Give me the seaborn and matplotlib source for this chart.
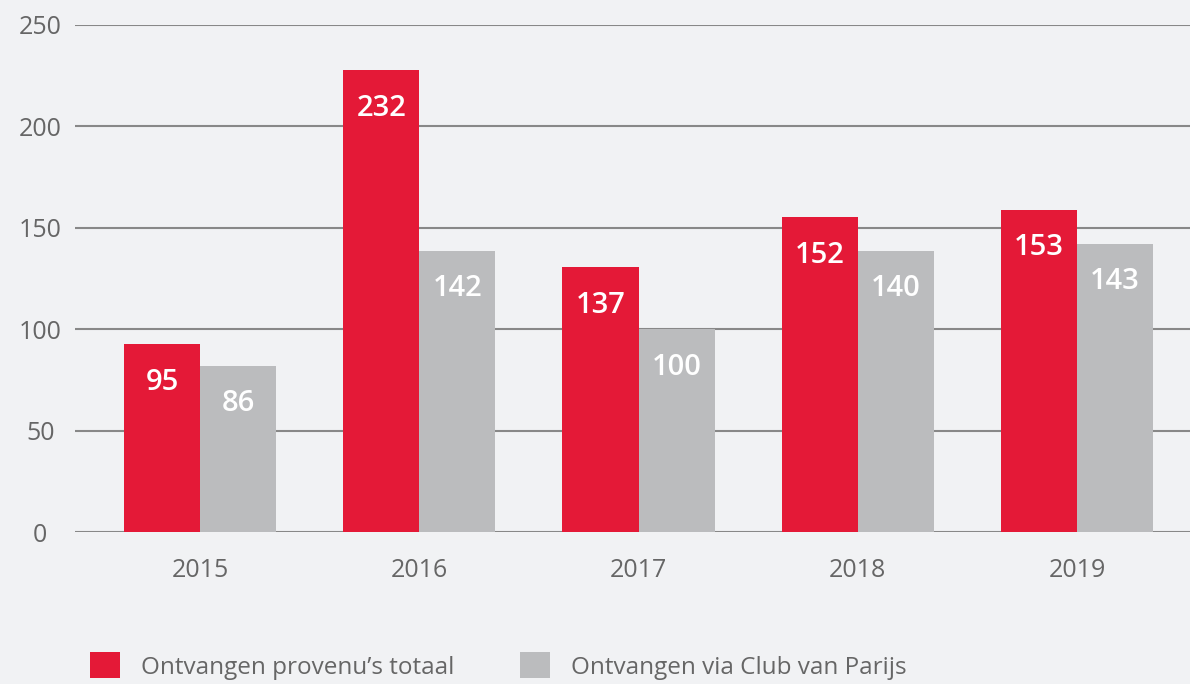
import pandas as pd
import numpy as np
import matplotlib.pyplot as plt
import seaborn as sns
from matplotlib.patches import Patch

# data
jaren = ['2015', '2016', '2017', '2018', '2019']
reeksen = ['Ontvangen provenu\u2019s totaal', 'Ontvangen via Club van Parijs']
# bar heights as drawn
totaal = [92.5, 227.7, 130.6, 155.1, 159.0]
club = [82.1, 138.8, 99.9, 138.8, 142.2]
# labels as printed on the bars
totaal_labels = ['95', '232', '137', '152', '153']
club_labels = ['86', '142', '100', '140', '143']

rood = '#e41937'
grijs = '#bbbcbe'
tekst = '#666666'
achtergrond = '#f1f2f4'

df = pd.DataFrame({
    'jaar': jaren * 2,
    'reeks': [reeksen[0]] * 5 + [reeksen[1]] * 5,
    'waarde': totaal + club,
})

sns.set_style('white')
plt.rcParams['font.family'] = ['Open Sans', 'DejaVu Sans']

W, H = 1190, 684
fig = plt.figure(figsize=(W / 100, H / 100), dpi=100, facecolor=achtergrond)
ax = fig.add_axes([75 / W, 1 - 532 / H, 1 - 75 / W, (532 - 25) / H])
ax.set_facecolor(achtergrond)

sns.barplot(data=df, x='jaar', y='waarde', hue='reeks', palette=[rood, grijs],
            width=0.694, gap=0, saturation=1, legend=False, ax=ax, zorder=2,
            linewidth=0, edgecolor='none')

ax.set_ylim(0, 250)
ax.set_xlim(-0.57, 4.515)
ax.set_yticks(np.arange(0, 251, 50))
ax.yaxis.grid(True, color='#888888', linewidth=1.5, zorder=0)
ax.set_axisbelow(True)
for s in ax.spines.values():
    s.set_visible(False)
ax.set_xlabel('')
ax.set_ylabel('')
ax.tick_params(axis='both', length=0, labelsize=18, colors=tekst)
ax.tick_params(axis='x', pad=19)
ax.tick_params(axis='y', pad=25)
for lbl in ax.get_yticklabels():
    lbl.set_horizontalalignment('center')

# labels inside the bars
for cont, labels in zip(ax.containers, [totaal_labels, club_labels]):
    for p, t in zip(cont.patches, labels):
        ax.annotate(t, (p.get_x() + p.get_width() / 2, p.get_height()),
                    xytext=(0, -27.5), textcoords='offset points',
                    ha='center', va='center', color='white', fontsize=21,
                    fontweight='semibold')

handles = [Patch(facecolor=rood, linewidth=0), Patch(facecolor=grijs, linewidth=0)]
fig.legend(handles, reeksen, loc='center left', bbox_to_anchor=(90 / W, 1 - 666 / H),
           ncol=2, frameon=False, fontsize=17.5, labelcolor=tekst,
           handlelength=1.25, handleheight=1.25, handletextpad=0.85,
           columnspacing=2.7, borderaxespad=0, borderpad=0)

fig.savefig('out.png', dpi=100, facecolor=achtergrond)
